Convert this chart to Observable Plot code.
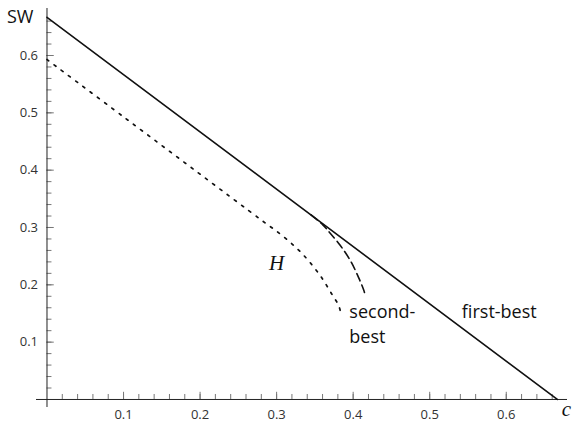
<!DOCTYPE html>
<html>
<head>
<meta charset="utf-8">
<script src="https://cdn.jsdelivr.net/npm/d3@7"></script>
<script src="https://cdn.jsdelivr.net/npm/@observablehq/plot@0.6"></script>
<style>
  html, body { margin: 0; padding: 0; background: #fff; }
  #chart svg { display: block; }
</style>
</head>
<body>
<div id="chart"></div>
<script>
// Data
const firstBestC  = [0, 0.6667];
const firstBestSW = [0.6667, 0];

const hC  = [0, 0.1, 0.2, 0.28, 0.31, 0.335, 0.357, 0.372, 0.381, 0.384];
const hSW = [0.593, 0.493, 0.393, 0.313, 0.283, 0.252, 0.216, 0.184, 0.164, 0.150];

const secondBestC  = [0.345, 0.36, 0.37, 0.383, 0.396, 0.407, 0.414, 0.416];
const secondBestSW = [0.322, 0.305, 0.290, 0.269, 0.243, 0.213, 0.190, 0.180];

const xTickValues = [0.1, 0.2, 0.3, 0.4, 0.5, 0.6];
const xTickLabels = ["0.1", "0.2", "0.3", "0.4", "0.5", "0.6"];
const yTickValues = [0.1, 0.2, 0.3, 0.4, 0.5, 0.6];
const yTickLabels = ["0.1", "0.2", "0.3", "0.4", "0.5", "0.6"];
const minorTicks = d3.range(1, 34).map(i => +(i * 0.02).toFixed(2));

const annLabels = ["H", "second-", "best", "first-best"];
const annC      = [0.300, 0.395, 0.395, 0.542];
const annSW     = [0.237, 0.152, 0.108, 0.152];

const xDomain = [-0.0137, 0.68];
const yDomain = [-0.014, 0.682];

const toRows = (xs, ys) => xs.map((x, i) => ({c: x, sw: ys[i]}));
const firstBest = toRows(firstBestC, firstBestSW);
const hCurve = toRows(hC, hSW);
const secondBest = toRows(secondBestC, secondBestSW);
const ann = annLabels.map((t, i) => ({t, c: annC[i], sw: annSW[i]}));

const sans = "'Open Sans', 'Noto Sans', sans-serif";
const serif = "'Liberation Serif', 'DejaVu Serif', serif";

const chart = Plot.plot({
  width: 575,
  height: 425,
  marginLeft: 36,
  marginRight: 8,
  marginTop: 8,
  marginBottom: 18,
  style: {fontFamily: sans, background: "#fff"},
  x: {domain: xDomain, axis: null},
  y: {domain: yDomain, axis: null},
  marks: [
    // minor ticks
    Plot.ruleX(minorTicks, {x: d => d, y1: 0, y2: 0.0087, stroke: "#777", strokeWidth: 1}),
    Plot.ruleY(minorTicks, {y: d => d, x1: 0, x2: 0.0065, stroke: "#777", strokeWidth: 1}),
    // major ticks
    Plot.ruleX(xTickValues, {x: d => d, y1: 0, y2: 0.0125, stroke: "#777", strokeWidth: 1}),
    Plot.ruleY(yTickValues, {y: d => d, x1: 0, x2: 0.0095, stroke: "#777", strokeWidth: 1}),
    // axis lines
    Plot.ruleY([0], {x1: xDomain[0], x2: 0.68, stroke: "#222", strokeWidth: 1}),
    Plot.ruleX([0], {y1: yDomain[0], y2: 0.682, stroke: "#222", strokeWidth: 1}),
    // tick labels
    Plot.text(xTickValues, {x: d => d, y: 0, text: (d, i) => xTickLabels[i], dy: 15, fontSize: 13, fill: "#333"}),
    Plot.text(yTickValues, {x: 0, y: d => d, text: (d, i) => yTickLabels[i], dx: -9, textAnchor: "end", fontSize: 13, fill: "#333"}),
    // curves
    Plot.line(firstBest, {x: "c", y: "sw", stroke: "#111", strokeWidth: 1.6}),
    Plot.line(hCurve, {x: "c", y: "sw", curve: "catmull-rom", stroke: "#111", strokeWidth: 1.7, strokeDasharray: "2.3,6.7"}),
    Plot.line(secondBest, {x: "c", y: "sw", curve: "catmull-rom", stroke: "#111", strokeWidth: 1.6, strokeDasharray: "8,4.5"}),
    // annotations
    Plot.text(ann.filter(d => d.t === "H"), {x: "c", y: "sw", text: "t", fontFamily: serif, fontStyle: "italic", fontSize: 21, fill: "#111"}),
    Plot.text(ann.filter(d => d.t !== "H"), {x: "c", y: "sw", text: "t", textAnchor: "start", fontSize: 18, fill: "#111"}),
    // axis titles
    Plot.text(["SW"], {x: -0.035, y: 0.667, text: d => d, fontSize: 18, fill: "#111"}),
    Plot.text(["c"], {x: 0.6785, y: -0.0165, text: d => d, fontFamily: serif, fontStyle: "italic", fontSize: 21, fill: "#111"})
  ]
});
document.getElementById("chart").appendChild(chart);
</script>
</body>
</html>
